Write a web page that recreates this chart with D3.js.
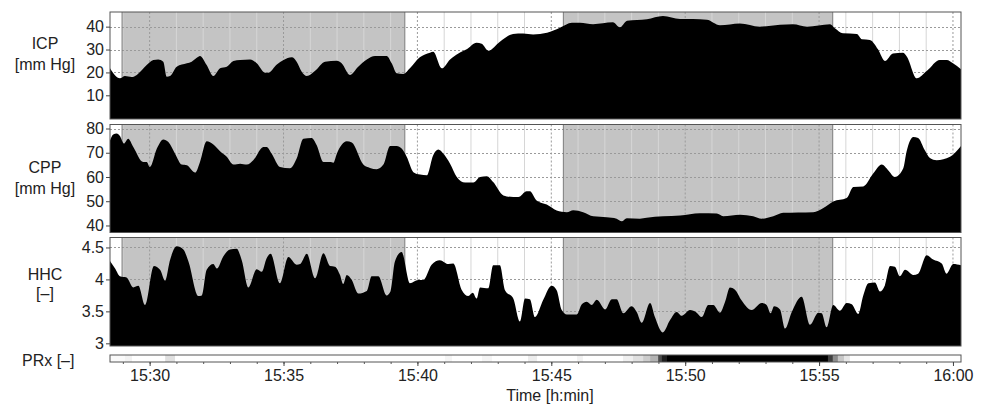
<!DOCTYPE html>
<html>
<head>
<meta charset="utf-8">
<script src="https://cdn.jsdelivr.net/npm/d3@7"></script>
<style>
body { margin: 0; background: #fff; }
svg { display: block; font-family: "Liberation Sans", Arial, sans-serif; }
</style>
</head>
<body>
<div id="chart"></div>
<script>
// time is in minutes after 15:00
const icpTime = [28.52,28.89,29.08,29.33,29.52,29.89,30.14,30.32,30.51,30.64,30.76,31.01,31.39,31.57,31.76,31.88,32.13,32.38,32.63,32.88,33.13,33.38,33.75,34.00,34.31,34.43,34.75,35.00,35.31,35.49,35.68,35.87,36.18,36.55,36.99,37.17,37.48,37.79,38.11,38.42,38.85,39.04,39.23,39.47,39.72,40.09,40.47,40.59,40.91,41.22,41.53,41.84,42.21,42.40,42.65,43.08,43.57,43.95,44.32,44.84,45.32,45.77,46.07,46.56,47.30,47.56,47.83,48.57,49.17,49.81,50.29,50.81,51.30,52.04,52.79,53.54,54.02,54.55,55.41,55.59,55.89,56.41,56.60,56.90,57.20,57.46,57.76,58.13,58.28,58.65,59.03,59.51,59.77,60.00,60.30];
const icpValue = [21.8,17.4,18.4,18.0,18.9,23.2,25.4,25.7,24.7,18.1,18.4,22.5,24.0,24.7,26.4,27.2,23.2,18.4,21.8,22.5,25.0,25.4,25.7,24.0,19.9,19.9,23.5,25.4,26.6,24.7,20.3,18.4,20.7,24.7,25.1,24.0,18.9,22.5,25.7,27.2,27.2,24.0,19.6,19.3,21.8,26.6,28.6,29.0,21.8,25.7,28.3,30.1,33.0,32.5,29.5,33.4,36.8,37.0,36.6,37.3,39.5,41.7,41.7,41.1,41.9,39.7,42.6,43.2,44.6,43.3,43.3,43.0,40.6,41.4,40.0,40.8,41.0,40.0,41.1,39.3,37.1,36.8,34.5,34.2,30.1,25.0,28.3,28.6,26.9,17.4,20.7,25.4,25.4,24.0,21.4];

const cppTime = [28.52,28.64,28.77,28.89,29.04,29.20,29.39,29.76,29.89,30.01,30.27,30.51,30.70,30.95,31.20,31.39,31.70,31.88,32.13,32.38,32.63,32.88,33.13,33.38,33.63,33.87,34.25,34.37,34.56,34.87,35.24,35.49,35.74,36.05,36.24,36.49,36.74,36.86,36.99,37.36,37.55,37.98,38.23,38.48,38.73,38.98,39.23,39.41,39.60,39.85,40.10,40.35,40.59,40.78,40.97,41.22,41.47,41.78,42.09,42.34,42.59,42.83,43.21,43.58,43.77,44.08,44.20,44.45,44.83,45.20,45.58,45.82,46.19,46.57,47.07,47.44,47.63,47.82,48.31,48.56,49.18,49.81,50.55,51.18,51.42,52.05,52.54,52.86,53.29,53.66,54.78,55.16,55.53,56.03,56.28,56.65,57.02,57.34,57.58,57.83,58.14,58.27,58.52,58.70,58.95,59.14,59.39,59.64,59.89,60.30];
const cppValue = [75.1,77.5,77.9,76.9,73.8,75.8,72.4,66.2,66.2,64.1,71.7,75.5,74.4,69.6,65.1,64.8,61.8,66.2,74.7,73.4,70.6,68.3,65.1,65.5,65.1,66.9,72.4,72.4,69.6,64.1,63.6,67.6,75.8,76.1,73.1,66.2,66.2,65.9,69.6,74.7,74.2,65.1,63.7,63.2,65.1,72.8,72.8,71.7,68.3,62.0,61.0,60.7,69.0,71.3,69.6,65.5,60.0,57.7,57.7,60.0,60.3,57.9,52.4,51.7,51.7,54.1,54.1,50.3,48.6,46.2,45.5,46.3,45.5,43.8,43.4,42.8,41.7,43.0,42.8,43.2,43.8,44.1,45.0,44.9,43.8,44.4,43.8,42.8,43.8,45.2,45.5,47.2,49.9,51.3,55.9,56.1,61.4,65.1,62.8,60.0,63.5,70.6,76.5,76.1,71.0,67.8,66.9,67.3,68.3,72.8];

const hhcTime = [28.52,28.71,28.89,29.14,29.39,29.58,29.83,30.16,30.39,30.58,30.76,31.01,31.26,31.45,31.82,31.95,32.13,32.38,32.51,32.75,33.00,33.25,33.44,33.69,34.00,34.19,34.37,34.52,34.87,35.18,35.49,35.62,35.87,36.18,36.49,36.74,36.92,37.11,37.23,37.36,37.55,37.79,38.11,38.29,38.54,38.85,39.00,39.16,39.41,39.72,40.03,40.22,40.53,40.84,41.15,41.34,41.65,41.90,42.07,42.21,42.34,42.65,42.83,43.08,43.27,43.58,43.83,44.02,44.20,44.39,44.70,45.01,45.20,45.39,45.58,45.95,46.14,46.32,46.51,46.70,47.01,47.26,47.44,47.69,48.00,48.19,48.38,48.69,48.87,49.16,49.43,49.68,49.87,50.18,50.43,50.62,50.86,51.05,51.30,51.49,51.67,51.86,52.11,52.48,52.86,53.04,53.19,53.32,53.54,53.73,53.98,54.35,54.66,54.97,55.10,55.28,55.53,55.78,56.03,56.22,56.46,56.65,56.84,57.09,57.27,57.46,57.65,57.83,58.02,58.21,58.52,58.70,59.02,59.26,59.58,59.76,60.01,60.30];
const hhcValue = [4.29,4.17,4.05,4.03,3.875,3.90,3.60,4.21,4.15,3.98,4.30,4.52,4.47,4.28,3.74,3.75,4.15,4.24,4.17,4.36,4.47,4.48,4.30,3.875,4.16,4.12,4.33,4.40,3.94,4.35,4.23,4.24,4.40,4.02,4.41,4.21,4.20,4.07,3.93,4.07,3.99,3.78,3.82,4.05,4.05,3.75,3.82,4.28,4.43,3.94,3.99,3.99,4.23,4.30,4.24,4.25,3.84,3.74,3.79,3.70,3.875,3.86,4.22,4.22,3.83,3.70,3.34,3.70,3.69,3.41,3.68,3.90,3.83,3.52,3.45,3.45,3.61,3.65,3.60,3.68,3.53,3.69,3.69,3.47,3.58,3.49,3.32,3.63,3.41,3.17,3.36,3.49,3.43,3.52,3.48,3.41,3.60,3.60,3.48,3.65,3.875,3.84,3.67,3.52,3.63,3.60,3.47,3.58,3.53,3.23,3.49,3.73,3.29,3.48,3.47,3.25,3.60,3.51,3.63,3.61,3.46,3.75,3.94,3.95,3.81,3.91,4.21,4.20,4.05,4.15,4.07,4.09,4.38,4.31,4.25,4.09,4.24,4.22];

// PRx strip: cell edges (minutes) and a darkness value per cell
const prxEdge = [28.52,29.08,29.34,30.58,30.95,41.03,41.29,42.41,42.79,44.13,44.47,45.96,46.18,47.68,48.05,48.43,48.69,48.99,49.13,49.32,55.33,55.51,55.70,55.93,56.15,60.30];
const prxValue = [0.02,0.05,0,0.12,0,0.04,0,0.04,0,0.07,0,0.05,0,0.06,0.12,0.2,0.3,0.7,0.88,1.0,0.75,0.45,0.22,0.1,0];

const shadeStart = [28.97, 45.45];
const shadeEnd = [39.53, 55.51];

const icpTicks = [10, 20, 30, 40];
const cppTicks = [40, 50, 60, 70, 80];
const hhcTicks = [3, 3.5, 4, 4.5];
const timeTicks = [30, 35, 40, 45, 50, 55, 60];

function drawChart() {
    const width = 986, height = 404;
    const left = 110, right = 961;
    const svg = d3.select("#chart").append("svg").attr("width", width).attr("height", height);
    const x = d3.scaleLinear().domain([28.52, 60.30]).range([left, right]);
    const minutes = d3.range(29, 61);

    const panels = [
        {id: "icp", label: ["ICP", "[mm Hg]"], labelY: [48.5, 69.5], time: icpTime, value: icpValue, top: 12, bottom: 119, domain: [-0.35, 46.4], ticks: icpTicks},
        {id: "cpp", label: ["CPP", "[mm Hg]"], labelY: [173, 193.5], time: cppTime, value: cppValue, top: 124.5, bottom: 232.5, domain: [37.1, 81.65], ticks: cppTicks},
        {id: "hhc", label: ["HHC", "[\u2013]"], labelY: [280, 298.5], time: hhcTime, value: hhcValue, top: 237.5, bottom: 346, domain: [2.958, 4.656], ticks: hhcTicks}
    ];

    panels.forEach(p => {
        const y = d3.scaleLinear().domain(p.domain).range([p.bottom, p.top]);
        const g = svg.append("g");
        const data = p.time.map((t, i) => ({t: t, v: p.value[i]}));

        g.append("clipPath").attr("id", "clip-" + p.id)
            .append("rect").attr("x", left).attr("y", p.top).attr("width", right - left).attr("height", p.bottom - p.top);

        // shaded intervals
        shadeStart.forEach((s, i) => {
            g.append("rect").attr("x", x(s)).attr("y", p.top).attr("width", x(shadeEnd[i]) - x(s)).attr("height", p.bottom - p.top)
                .attr("fill", "#c4c4c4");
        });

        // vertical grid, one line per minute
        g.selectAll(".vgrid").data(minutes).join("line")
            .attr("x1", d => x(d)).attr("x2", d => x(d)).attr("y1", p.top).attr("y2", p.bottom)
            .attr("stroke", d => d % 5 === 0 ? "#9a9a9a" : "#d6d6d6")
            .attr("stroke-dasharray", d => d % 5 === 0 ? "2,2" : null)
            .attr("stroke-width", 1);

        // horizontal grid
        g.selectAll(".hgrid").data(p.ticks).join("line")
            .attr("x1", left).attr("x2", right).attr("y1", d => Math.round(y(d)) + 0.5).attr("y2", d => Math.round(y(d)) + 0.5)
            .attr("stroke", "#9a9a9a").attr("stroke-dasharray", "2,2");

        shadeStart.concat(shadeEnd).forEach(s => {
            g.append("line").attr("x1", x(s)).attr("x2", x(s)).attr("y1", p.top).attr("y2", p.bottom)
                .attr("stroke", "#7d7d7d").attr("stroke-width", 1);
        });

        const area = d3.area().curve(d3.curveMonotoneX).x(d => x(d.t)).y0(p.bottom).y1(d => y(d.v));
        g.append("path").datum(data).attr("d", area).attr("fill", "#000").attr("clip-path", "url(#clip-" + p.id + ")");

        g.append("rect").attr("x", left).attr("y", p.top).attr("width", right - left).attr("height", p.bottom - p.top)
            .attr("fill", "none").attr("stroke", "#555").attr("stroke-width", 1);

        const axis = g.append("g").attr("transform", `translate(${left},0)`)
            .call(d3.axisLeft(y).tickValues(p.ticks).tickSize(4).tickPadding(2).tickFormat(d => String(d)));
        axis.select(".domain").remove();
        axis.selectAll("line").attr("stroke", "#444");
        axis.selectAll("text").attr("font-size", 16).attr("fill", "#222").attr("font-family", "Liberation Sans, Arial, sans-serif");

        p.label.forEach((txt, i) => {
            svg.append("text").attr("x", 45).attr("y", p.labelY[i]).attr("text-anchor", "middle")
                .attr("font-size", 16).attr("fill", "#222").text(txt);
        });
    });

    // PRx strip
    const stripTop = 355, stripBottom = 362;
    const gray = d3.scaleLinear().domain([0, 1]).range(["#ffffff", "#000000"]);
    svg.append("g").selectAll("rect").data(prxValue).join("rect")
        .attr("x", (d, i) => x(prxEdge[i])).attr("y", stripTop)
        .attr("width", (d, i) => x(prxEdge[i + 1]) - x(prxEdge[i]) + 0.5).attr("height", stripBottom - stripTop)
        .attr("fill", d => gray(d));
    svg.append("rect").attr("x", left).attr("y", stripTop).attr("width", right - left).attr("height", stripBottom - stripTop)
        .attr("fill", "none").attr("stroke", "#555");
    svg.append("text").attr("x", 22).attr("y", 365.5).attr("font-size", 16).attr("fill", "#222").text("PRx [\u2013]");

    // time axis
    const fmt = m => `${15 + Math.floor(m / 60)}:${String(m % 60).padStart(2, "0")}`;
    const minor = svg.append("g").attr("transform", `translate(0,${stripBottom})`)
        .call(d3.axisBottom(x).tickValues(minutes).tickSize(2).tickFormat(""));
    minor.select(".domain").remove();
    minor.selectAll("line").attr("stroke", "#555");
    const major = svg.append("g").attr("transform", `translate(0,${stripBottom})`)
        .call(d3.axisBottom(x).tickValues(timeTicks).tickSize(4).tickPadding(4).tickFormat(fmt));
    major.select(".domain").remove();
    major.selectAll("line").attr("stroke", "#444");
    major.selectAll("text").attr("font-size", 16).attr("fill", "#222").attr("font-family", "Liberation Sans, Arial, sans-serif");

    svg.append("text").attr("x", 550).attr("y", 401).attr("text-anchor", "middle")
        .attr("font-size", 16).attr("fill", "#222").text("Time [h:min]");
}

document.addEventListener("DOMContentLoaded", () => {
    drawChart();
});
</script>
</body>
</html>
